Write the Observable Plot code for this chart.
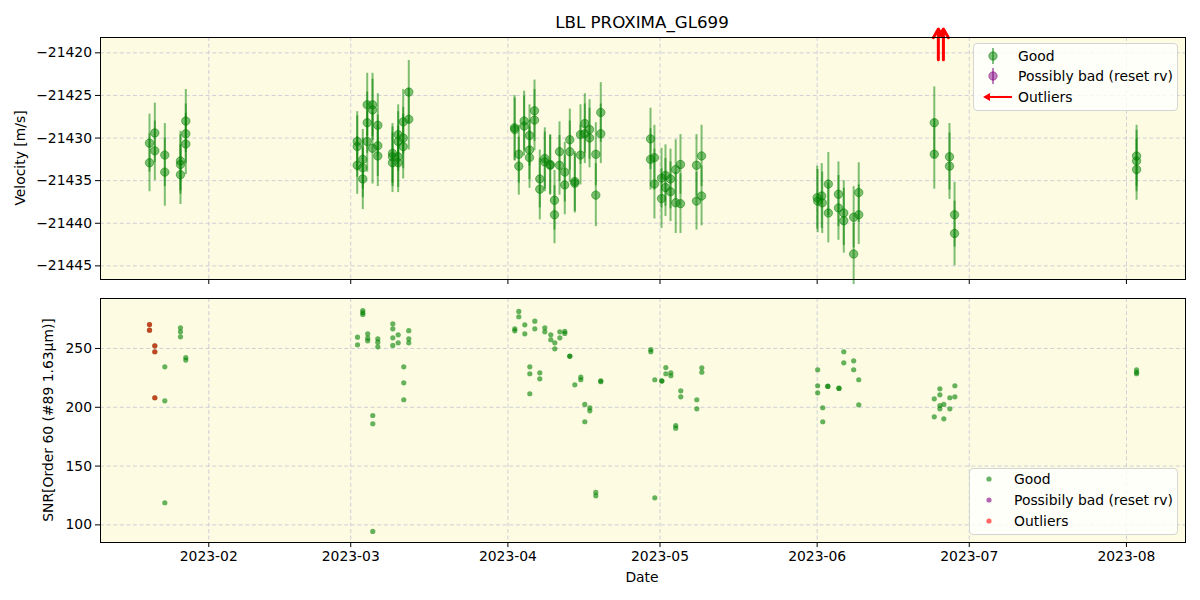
<!DOCTYPE html>
<html><head><meta charset="utf-8">
<script src="https://cdn.jsdelivr.net/npm/d3@7"></script>
<script src="https://cdn.jsdelivr.net/npm/@observablehq/plot@0.6"></script>
<style>
body{margin:0;background:#fff;font-family:"DejaVu Sans",sans-serif;color:#000;}
#wrap{position:relative;width:1200px;height:600px;overflow:hidden;}
.abs{position:absolute;white-space:nowrap;}
</style></head><body><div id="wrap"></div>
<script>
// ---------- data ----------
const title = "LBL PROXIMA_GL699";
const yLabelTop = "Velocity [m/s]";
const yLabelBottom = "SNR[Order 60 (#89 1.63μm)]";
const xLabel = "Date";
const tickLabels = ["2023-02","2023-03","2023-04","2023-05","2023-06","2023-07","2023-08"];
const rvTicks = [-21445,-21440,-21435,-21430,-21425,-21420];
const snrTicks = [100,150,200,250];
const legendTop = ["Good","Possibly bad (reset rv)","Outliers"];
const legendBottom = ["Good","Possibily bad (reset rv)","Outliers"];

// days since 2023-01-01
const goodDay = [19.31,19.31,20.36,20.36,22.33,22.33,25.42,25.42,25.42,26.47,26.47,26.47,
 60.28,60.28,60.28,61.38,61.38,61.38,62.25,62.25,62.25,63.30,63.30,63.30,64.34,64.34,64.34,
 67.24,67.24,67.24,68.36,68.36,68.36,68.36,69.35,69.35,69.35,70.45,70.45,
 91.30,91.36,92.15,92.15,93.20,93.20,94.26,94.26,94.26,95.25,95.25,96.29,96.29,97.28,97.28,
 98.34,98.34,99.19,99.19,100.18,100.18,101.22,101.22,102.21,102.21,103.20,103.20,104.32,104.32,
 105.17,105.17,106.10,106.10,107.34,107.34,108.32,108.32,
 118.13,118.13,118.90,118.90,120.30,120.30,121.08,121.08,122.07,122.07,123.10,123.10,124.04,124.04,
 127.20,127.20,128.20,128.20,
 151.00,151.10,151.90,152.00,153.20,153.20,155.20,155.20,156.25,156.25,158.20,158.20,159.20,159.20,
 174.10,174.10,177.10,177.10,178.10,178.10,214.00,214.00,214.00];
const goodRv = [-21430.6,-21432.9,-21429.4,-21431.5,-21432.0,-21434.0,-21432.7,-21433.1,-21434.3,-21428.0,-21429.5,-21430.7,
 -21430.4,-21431.0,-21433.2,-21432.5,-21433.5,-21434.8,-21426.1,-21428.2,-21430.4,-21426.1,-21426.7,-21431.2,-21428.5,-21430.9,-21432.1,
 -21431.8,-21432.2,-21432.9,-21429.6,-21430.4,-21432.2,-21432.9,-21428.1,-21430.0,-21431.0,-21424.6,-21427.8,
 -21428.8,-21429.0,-21431.9,-21433.3,-21428.0,-21428.6,-21429.7,-21431.4,-21432.3,-21426.8,-21427.9,-21434.8,-21436.0,-21432.4,-21432.8,
 -21433.1,-21433.2,-21437.3,-21439.0,-21431.6,-21433.2,-21434.0,-21435.5,-21430.2,-21431.6,-21435.1,-21435.3,-21429.6,-21432.0,
 -21428.3,-21429.5,-21429.0,-21430.0,-21431.9,-21436.7,-21427.0,-21429.5,
 -21430.1,-21432.5,-21432.3,-21435.4,-21434.7,-21437.1,-21434.4,-21435.8,-21434.8,-21436.3,-21433.7,-21437.6,-21433.1,-21437.7,
 -21433.2,-21437.4,-21432.1,-21436.8,
 -21437.0,-21437.4,-21436.8,-21437.6,-21435.4,-21438.8,-21436.6,-21438.2,-21438.8,-21439.7,-21439.3,-21443.6,-21436.4,-21439.0,
 -21428.2,-21431.9,-21432.2,-21433.3,-21439.0,-21441.2,-21432.1,-21432.7,-21433.7];
const goodErr = [3.4,3.4,3.5,3.5,3.7,4.0,3.5,3.5,3.5,3.7,3.5,3.6,
 3.5,3.6,3.4,3.5,3.5,3.6,3.7,3.6,3.6,3.7,3.6,4.2,3.7,3.6,3.6,
 3.5,3.5,3.5,3.5,3.5,3.6,3.5,3.8,3.6,3.8,3.7,3.6,
 3.8,3.7,3.4,3.4,3.5,3.5,3.6,3.5,3.6,3.6,3.6,3.4,3.6,3.6,3.5,
 3.5,3.5,3.5,3.4,3.5,3.5,3.5,3.5,3.6,3.6,3.5,3.5,3.5,3.5,
 3.5,3.5,3.5,3.5,3.7,3.7,3.5,3.5,
 3.6,3.6,3.8,4.1,3.5,3.5,3.6,3.4,3.5,3.5,3.5,3.6,3.5,3.5,
 3.6,3.4,3.6,3.5,
 3.7,3.7,3.8,3.6,3.7,3.5,3.8,3.8,3.8,3.8,3.6,3.6,3.5,3.5,
 4.2,4.1,3.9,3.9,3.8,3.8,3.6,3.6,3.6];

// outliers beyond the top of the velocity panel (drawn as arrows)
const outDay = [174.9, 175.9];
const outFrom = [-21420.8, -21420.8];
const outTo = [-21417.2, -21417.2];

// SNR panel
const snrDay = [19.31,19.31,20.36,20.36,20.36,22.33,22.33,22.33,25.42,25.42,25.42,26.47,26.47,
 60.34,60.34,61.38,61.38,61.38,62.35,62.35,62.35,63.35,63.35,63.35,64.34,64.34,64.34,
 67.30,67.30,67.30,67.30,68.36,68.36,69.46,69.46,69.46,70.45,70.45,70.45,
 91.36,91.36,92.15,92.15,93.34,93.34,94.32,94.32,94.32,95.31,95.31,96.29,96.29,97.28,97.28,
 98.46,98.46,99.25,99.25,100.24,100.24,101.22,101.22,102.21,102.21,103.20,104.38,104.38,
 105.17,105.17,106.16,106.16,107.34,107.34,108.32,108.32,
 118.19,118.19,118.98,118.98,120.36,120.36,121.15,121.15,122.14,122.14,123.10,123.10,124.10,124.10,
 127.26,127.26,128.25,128.25,
 151.10,151.10,151.10,152.10,152.10,153.10,153.10,155.30,155.30,156.25,156.25,158.20,158.20,159.20,159.20,
 174.10,174.10,175.20,175.20,175.20,175.20,175.98,175.98,177.17,177.17,178.16,178.16,214.00,214.00,214.00];
const snrVal = [270.4,265.6,252.3,247.2,208.1,234.4,205.5,118.8,267.6,264.2,259.9,242.3,240.1,
 259.6,253.1,282.3,280.4,278.9,262.5,258.8,256.5,193.0,186.0,94.4,258.2,255.4,251.4,
 271.0,266.7,259.1,252.6,261.6,254.8,234.4,220.8,206.4,265.1,258.2,254.8,
 266.7,265.0,281.5,277.0,270.1,262.5,234.4,228.5,211.5,273.2,266.7,229.3,224.2,267.6,264.2,
 261.6,257.4,254.8,249.7,264.2,259.1,264.5,262.8,243.5,243.3,219.1,225.6,223.4,
 202.4,187.7,199.6,197.0,127.6,124.7,222.5,221.8,
 249.1,247.2,223.4,123.0,222.5,222.3,233.8,228.5,229.3,226.8,184.5,182.2,214.0,208.9,
 206.4,198.7,233.6,229.8,
 231.9,218.3,212.3,199.6,187.7,217.9,217.7,216.2,216.0,247.2,237.8,239.5,231.9,223.4,202.1,
 207.2,191.9,215.7,210.6,201.5,198.7,202.4,190.2,208.1,198.7,218.3,208.9,231.9,229.8,228.5];
const snrOutDay = [19.31,19.31,20.36,20.36,20.36];
const snrOutVal = [270.4,265.6,252.3,247.2,208.1];

// ---------- build ----------
const toDate = d => new Date(Date.UTC(2023,0,1) + d*864e5);
const monthTicks = tickLabels.map(s => new Date(s + "-01T00:00:00Z"));
const good = goodDay.map((d,i)=>({date:toDate(d), rv:goodRv[i], lo:goodRv[i]-goodErr[i], hi:goodRv[i]+goodErr[i]}));
const outs = outDay.map((d,i)=>({date:toDate(d), from:outFrom[i], to:outTo[i]}));
const snr = snrDay.map((d,i)=>({date:toDate(d), v:snrVal[i]}));
const snrOut = snrOutDay.map((d,i)=>({date:toDate(d), v:snrOutVal[i]}));

const xDomain = [toDate(9.645), toDate(223.65)];
const bg = "#fdfce2";
const gridC = "#c9cad6";
const minus = d => (d < 0 ? "\u2212" : "") + Math.abs(d);
const style = {fontFamily:"DejaVu Sans", fontSize:"13.9px", background:"transparent", overflow:"visible", color:"black"};
const gridOpts = {stroke:gridC, strokeOpacity:1, strokeWidth:0.9, strokeDasharray:"4,2.6"};

const topPlot = Plot.plot({
  width:1200, height:290, marginLeft:100, marginRight:15, marginTop:37, marginBottom:11,
  style,
  x:{type:"utc", domain:xDomain},
  y:{domain:[-21446.6,-21418.2]},
  marks:[
    Plot.frame({fill:bg}),
    Plot.gridX({ticks:monthTicks, ...gridOpts}),
    Plot.gridY({ticks:rvTicks, ...gridOpts}),
    Plot.ruleX(good, {x:"date", y1:"lo", y2:"hi", stroke:"green", strokeOpacity:0.5, strokeWidth:2}),
    Plot.dot(good, {x:"date", y:"rv", r:4.2, fill:"green", fillOpacity:0.5, stroke:"green", strokeOpacity:0.5, strokeWidth:1}),
    Plot.arrow(outs, {x1:"date", x2:"date", y1:"from", y2:"to", stroke:"red", strokeWidth:3, headLength:5, headAngle:60}),
    Plot.axisX({ticks:monthTicks, tickFormat:()=>"", tickSize:5, label:null}),
    Plot.axisY({ticks:rvTicks, tickFormat:minus, tickSize:5, tickPadding:3.5, label:null}),
    Plot.frame({stroke:"black", strokeWidth:1})
  ]
});

const botPlot = Plot.plot({
  width:1200, height:310, marginLeft:100, marginRight:15, marginTop:8, marginBottom:58,
  style,
  x:{type:"utc", domain:xDomain},
  y:{domain:[85.0,292.5]},
  marks:[
    Plot.frame({fill:bg}),
    Plot.gridX({ticks:monthTicks, ...gridOpts}),
    Plot.gridY({ticks:snrTicks, ...gridOpts}),
    Plot.dot(snr, {x:"date", y:"v", r:2.6, fill:"green", fillOpacity:0.6}),
    Plot.dot(snrOut, {x:"date", y:"v", r:2.6, fill:"red", fillOpacity:0.6}),
    Plot.axisX({ticks:monthTicks, tickFormat:d3.utcFormat("%Y-%m"), tickSize:5, tickPadding:3.5, label:null}),
    Plot.axisY({ticks:snrTicks, tickSize:5, tickPadding:3.5, label:null}),
    Plot.frame({stroke:"black", strokeWidth:1})
  ]
});

const wrap = document.getElementById("wrap");
function place(el, left, top){ el.style.position="absolute"; el.style.left=left+"px"; el.style.top=top+"px"; wrap.appendChild(el); }
place(topPlot, 0, 0);
place(botPlot, 0, 290);

function label(text, cx, cy, size, rot){
  const d = document.createElement("div");
  d.className = "abs";
  d.textContent = text;
  d.style.fontSize = size + "px";
  d.style.left = cx + "px"; d.style.top = cy + "px";
  d.style.transform = "translate(-50%,-50%)" + (rot ? " rotate(-90deg)" : "");
  wrap.appendChild(d);
}
label(title, 642, 22, 16.7, false);
label(yLabelTop, 20, 158, 13.9, true);
label(yLabelBottom, 48, 420, 13.9, true);
label(xLabel, 642, 577, 13.9, false);

const NS = "http://www.w3.org/2000/svg";
function legend(left, top, w, h, items, kind){
  const box = document.createElement("div");
  box.style.cssText = `position:absolute;left:${left}px;top:${top}px;width:${w}px;height:${h}px;border:1px solid #d5d5d5;border-radius:4px;background:rgba(255,255,255,0.8);box-sizing:border-box;`;
  const svg = document.createElementNS(NS,"svg");
  svg.setAttribute("width", w); svg.setAttribute("height", h);
  svg.style.position="absolute"; svg.style.left="-1px"; svg.style.top="-1px"; svg.style.overflow="visible";
  const ys = kind==="top" ? [13,33,54] : [11,32,53];
  const cols = ["green","purple","red"];
  items.forEach((t,i)=>{
    const y = ys[i];
    let s = "";
    if (kind==="top") {
      if (i<2) {
        s += `<line x1="20" x2="20" y1="${y-8}" y2="${y+8}" stroke="${cols[i]}" stroke-opacity="0.5" stroke-width="2"/>`;
        s += `<circle cx="20" cy="${y}" r="4.2" fill="${cols[i]}" fill-opacity="0.5" stroke="${cols[i]}" stroke-opacity="0.5"/>`;
      } else {
        s += `<line x1="39" x2="14" y1="${y}" y2="${y}" stroke="red" stroke-width="2"/>`;
        s += `<path d="M10,${y} L17,${y-4} L17,${y+4} Z" fill="red"/>`;
      }
    } else {
      s += `<circle cx="20" cy="${y}" r="2.6" fill="${cols[i]}" fill-opacity="0.6"/>`;
    }
    s += `<text x="45" y="${y}" dy="0.35em" font-family="DejaVu Sans" font-size="13.9">${t}</text>`;
    svg.insertAdjacentHTML("beforeend", s);
  });
  box.appendChild(svg);
  wrap.appendChild(box);
}
legend(973, 43, 205, 68, legendTop, "top");
legend(969, 468, 209, 67, legendBottom, "bottom");
</script></body></html>
